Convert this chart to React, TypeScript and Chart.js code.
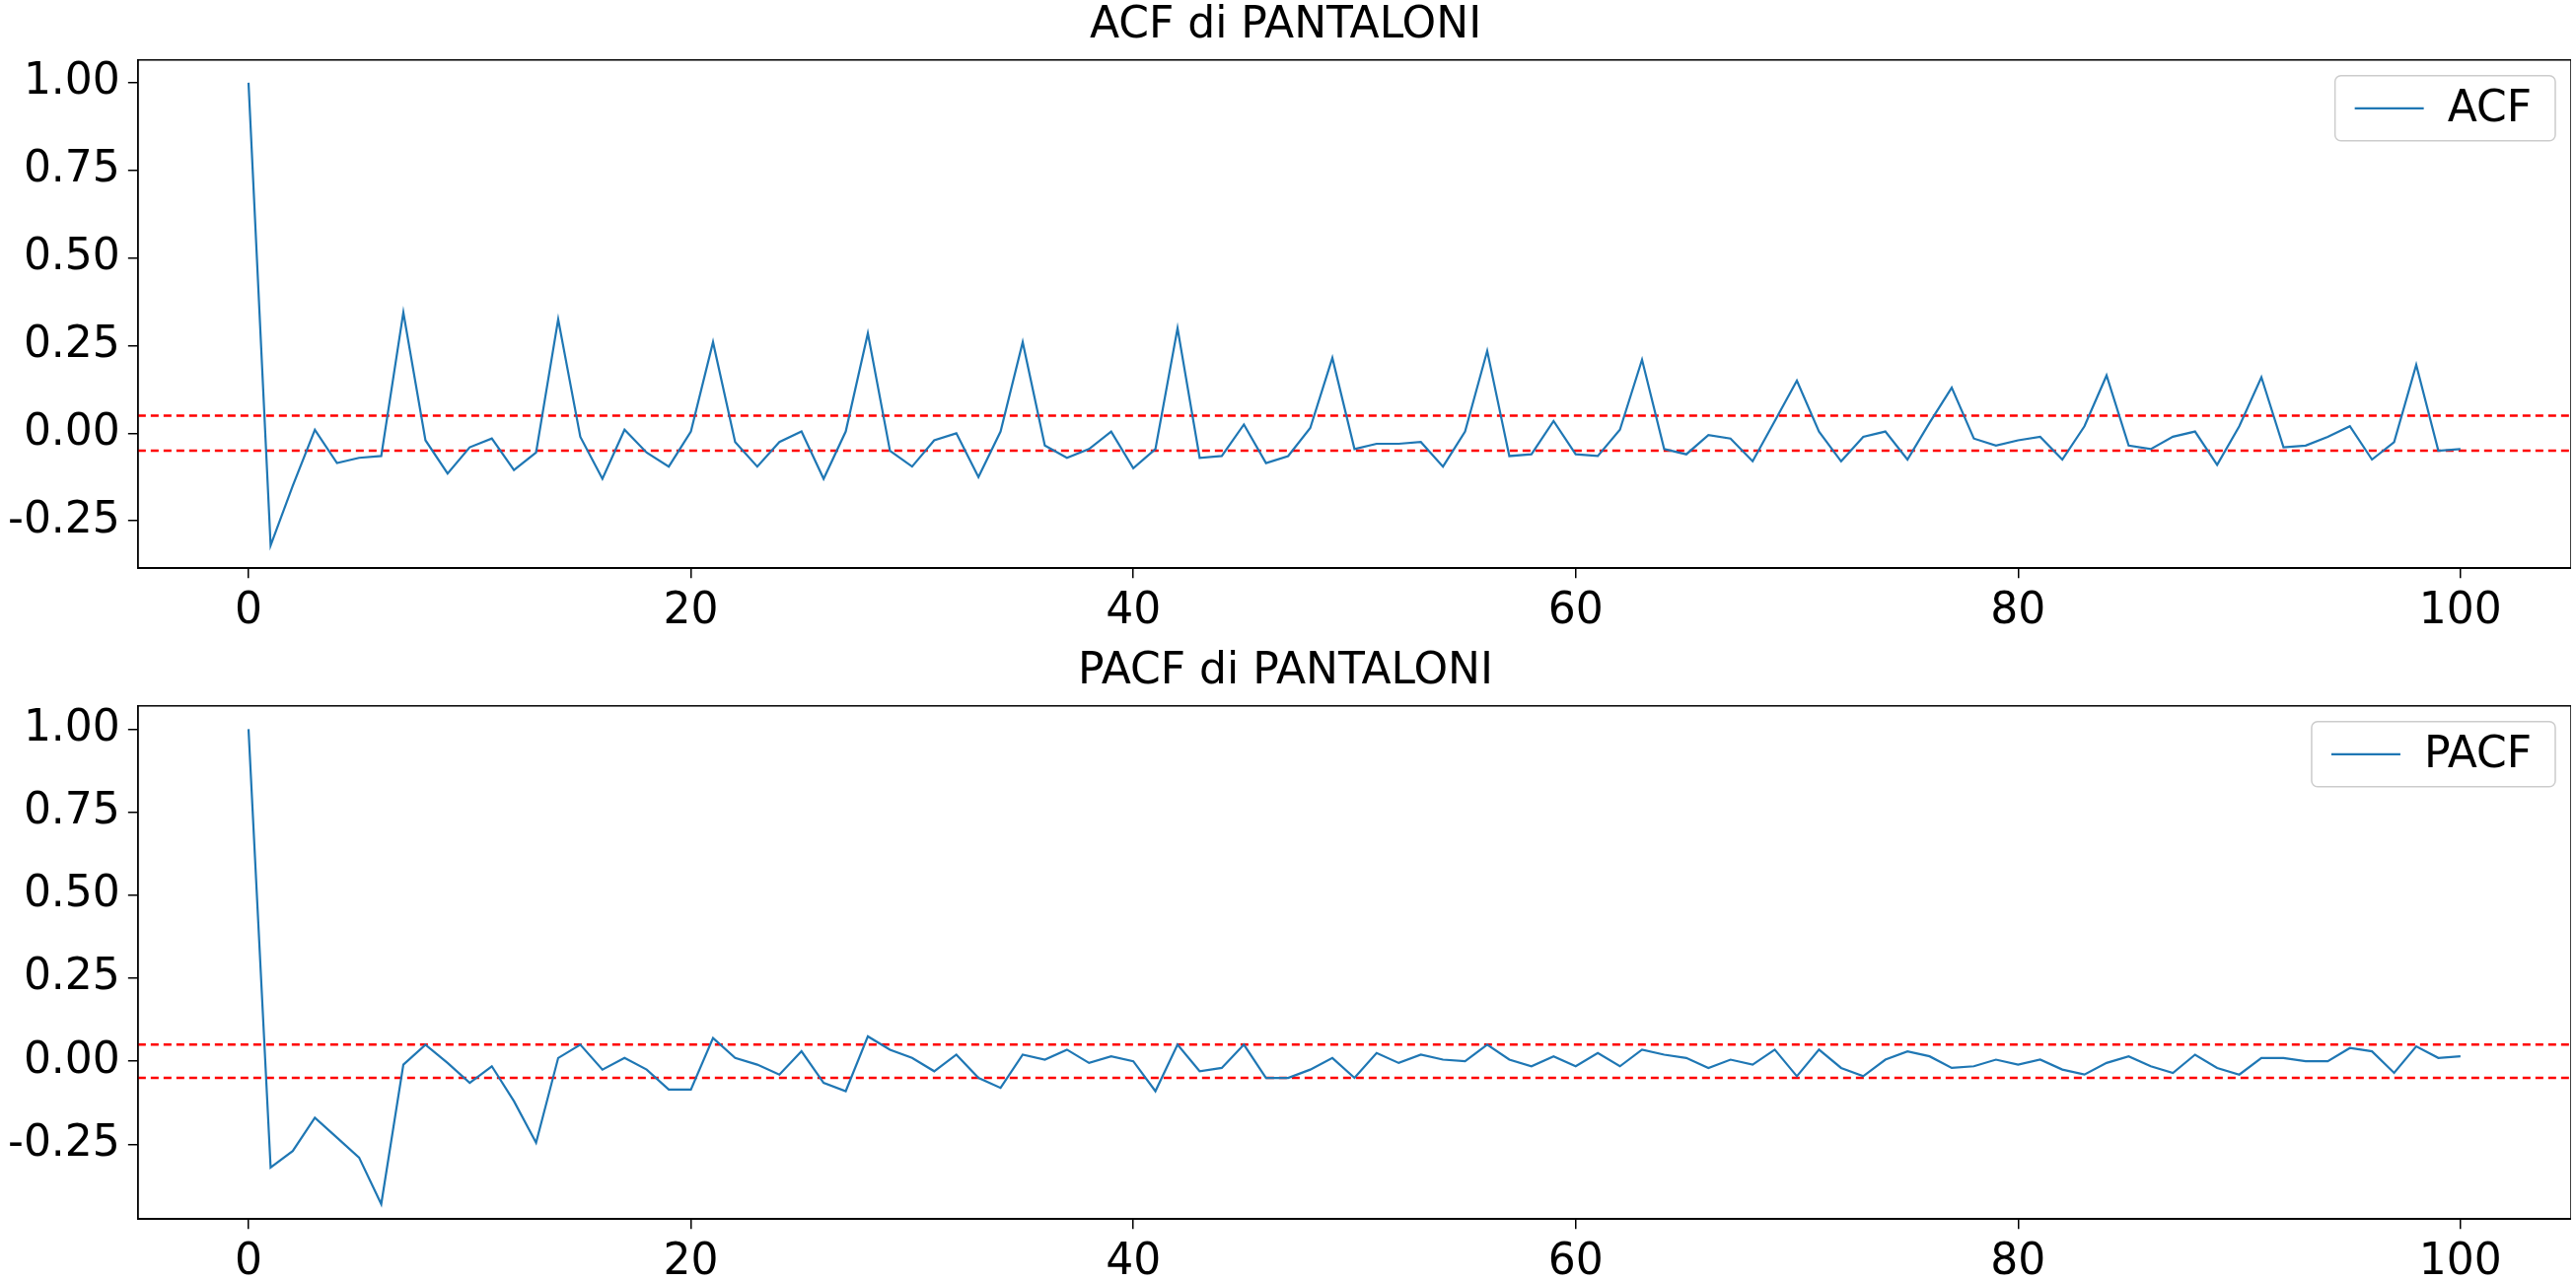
import React, { useEffect, useRef } from 'react';
import { Chart, registerables } from 'chart.js';

Chart.register(...registerables);

const lags: number[] = Array.from({ length: 101 }, (_, i) => i);

const acfValues: number[] = [
  1.0, -0.32, -0.15, 0.01, -0.085, -0.07, -0.065, 0.345, -0.02, -0.115,
  -0.04, -0.015, -0.105, -0.055, 0.325, -0.01, -0.13, 0.01, -0.055, -0.095,
  0.005, 0.26, -0.025, -0.095, -0.025, 0.005, -0.13, 0.005, 0.285, -0.05,
  -0.095, -0.02, 0.0, -0.125, 0.005, 0.26, -0.035, -0.07, -0.045, 0.005,
  -0.1, -0.045, 0.3, -0.07, -0.065, 0.025, -0.085, -0.065, 0.015, 0.215,
  -0.045, -0.03, -0.03, -0.025, -0.095, 0.005, 0.235, -0.065, -0.06, 0.035,
  -0.06, -0.065, 0.01, 0.21, -0.045, -0.06, -0.005, -0.015, -0.08, 0.035,
  0.15, 0.005, -0.08, -0.01, 0.005, -0.075, 0.03, 0.13, -0.015, -0.035,
  -0.02, -0.01, -0.075, 0.02, 0.165, -0.035, -0.045, -0.01, 0.005, -0.09,
  0.02, 0.16, -0.04, -0.035, -0.01, 0.02, -0.075, -0.025, 0.195, -0.05,
  -0.045,
];

const pacfValues: number[] = [
  1.0, -0.32, -0.27, -0.17, -0.23, -0.29, -0.43, -0.01, 0.05, -0.005,
  -0.065, -0.015, -0.12, -0.245, 0.01, 0.05, -0.025, 0.01, -0.025, -0.085,
  -0.085, 0.07, 0.01, -0.01, -0.04, 0.03, -0.065, -0.09, 0.075, 0.035,
  0.01, -0.03, 0.02, -0.05, -0.08, 0.02, 0.005, 0.035, -0.005, 0.015,
  0.0, -0.09, 0.05, -0.03, -0.02, 0.05, -0.05, -0.05, -0.025, 0.01,
  -0.05, 0.025, -0.005, 0.02, 0.005, 0.0, 0.05, 0.005, -0.015, 0.015,
  -0.015, 0.025, -0.015, 0.035, 0.02, 0.01, -0.02, 0.005, -0.01, 0.035,
  -0.045, 0.035, -0.02, -0.045, 0.005, 0.03, 0.015, -0.02, -0.015, 0.005,
  -0.01, 0.005, -0.025, -0.04, -0.005, 0.015, -0.015, -0.035, 0.02, -0.02,
  -0.04, 0.01, 0.01, 0.0, 0.0, 0.04, 0.03, -0.035, 0.045, 0.01,
  0.015,
];

const confBound = 0.05;

const FONT = "'DejaVu Sans', sans-serif";

// box around plot area + matplotlib-like legend in upper right
const framePlugin = {
  id: 'frame',
  afterDraw(chart: any) {
    const { ctx, chartArea: a } = chart;
    ctx.save();
    ctx.strokeStyle = '#000';
    ctx.lineWidth = 1.5;
    ctx.strokeRect(a.left, a.top, a.right - a.left, a.bottom - a.top);

    const ds = chart.data.datasets[0];
    ctx.font = `44px ${FONT}`;
    const tw = ctx.measureText(ds.label).width;
    const w = 20 + 70 + 24 + tw + 24;
    const h = 66;
    const x = a.right - 16 - w;
    const y = a.top + 16;
    ctx.fillStyle = 'rgba(255,255,255,0.8)';
    ctx.strokeStyle = '#ccc';
    ctx.beginPath();
    ctx.roundRect(x, y, w, h, 6);
    ctx.fill();
    ctx.stroke();
    ctx.strokeStyle = ds.borderColor;
    ctx.lineWidth = 2.2;
    ctx.beginPath();
    ctx.moveTo(x + 20, y + h / 2);
    ctx.lineTo(x + 90, y + h / 2);
    ctx.stroke();
    ctx.fillStyle = '#000';
    ctx.textBaseline = 'middle';
    ctx.fillText(ds.label, x + 114, y + h / 2 + 2);
    ctx.restore();
  },
};

interface PanelProps {
  title: string;
  label: string;
  values: number[];
  yMin: number;
  yMax: number;
}

const Panel: React.FC<PanelProps> = ({ title, label, values, yMin, yMax }) => {
  const canvasRef = useRef<HTMLCanvasElement | null>(null);

  useEffect(() => {
    if (!canvasRef.current) return;
    const tickFont = { family: FONT, size: 44 };
    const chart = new Chart(canvasRef.current, {
      type: 'line',
      data: {
        datasets: [
          {
            label,
            data: lags.map((x) => ({ x, y: values[x] })),
            borderColor: '#1f77b4',
            borderWidth: 2.2,
            pointRadius: 0,
          },
          {
            label: 'upper',
            data: [{ x: -5, y: confBound }, { x: 105, y: confBound }],
            borderColor: 'red',
            borderWidth: 2.5,
            borderDash: [8, 5],
            pointRadius: 0,
          },
          {
            label: 'lower',
            data: [{ x: -5, y: -confBound }, { x: 105, y: -confBound }],
            borderColor: 'red',
            borderWidth: 2.5,
            borderDash: [8, 5],
            pointRadius: 0,
          },
        ],
      },
      options: {
        animation: false,
        responsive: true,
        maintainAspectRatio: false,
        layout: { padding: { left: 0, right: 0, top: 0, bottom: 0 } },
        plugins: {
          title: {
            display: true,
            text: title,
            color: '#000',
            font: { family: FONT, size: 44, weight: 'normal' },
            padding: { top: 0, bottom: 8 },
          },
          legend: { display: false },
          tooltip: { enabled: false },
        },
        scales: {
          x: {
            type: 'linear',
            min: -5,
            max: 105,
            grid: { drawOnChartArea: false, tickLength: 10, color: '#000', lineWidth: 1.5 },
            border: { color: '#000', width: 1.5 },
            ticks: { stepSize: 20, includeBounds: false, color: '#000', font: tickFont, padding: 8 },
          },
          y: {
            min: yMin,
            max: yMax,
            grid: { drawOnChartArea: false, tickLength: 10, color: '#000', lineWidth: 1.5 },
            border: { color: '#000', width: 1.5 },
            ticks: {
              stepSize: 0.25,
              includeBounds: false,
              color: '#000',
              font: tickFont,
              padding: 8,
              callback: (v: any) => Number(v).toFixed(2),
            },
          },
        },
      },
      plugins: [framePlugin],
    });
    return () => chart.destroy();
  }, [title, label, values, yMin, yMax]);

  return <canvas ref={canvasRef} />;
};

export default function App() {
  return (
    <div style={{ position: 'absolute', left: 0, top: 0, width: 2612, height: 1299, background: '#fff' }}>
      <div style={{ position: 'absolute', left: 0, top: 0, width: 2607, height: 655 }}>
        <Panel title="ACF di PANTALONI" label="ACF" values={acfValues} yMin={-0.385} yMax={1.065} />
      </div>
      <div style={{ position: 'absolute', left: 0, top: 655, width: 2607, height: 660 }}>
        <Panel title="PACF di PANTALONI" label="PACF" values={pacfValues} yMin={-0.475} yMax={1.07} />
      </div>
    </div>
  );
}
